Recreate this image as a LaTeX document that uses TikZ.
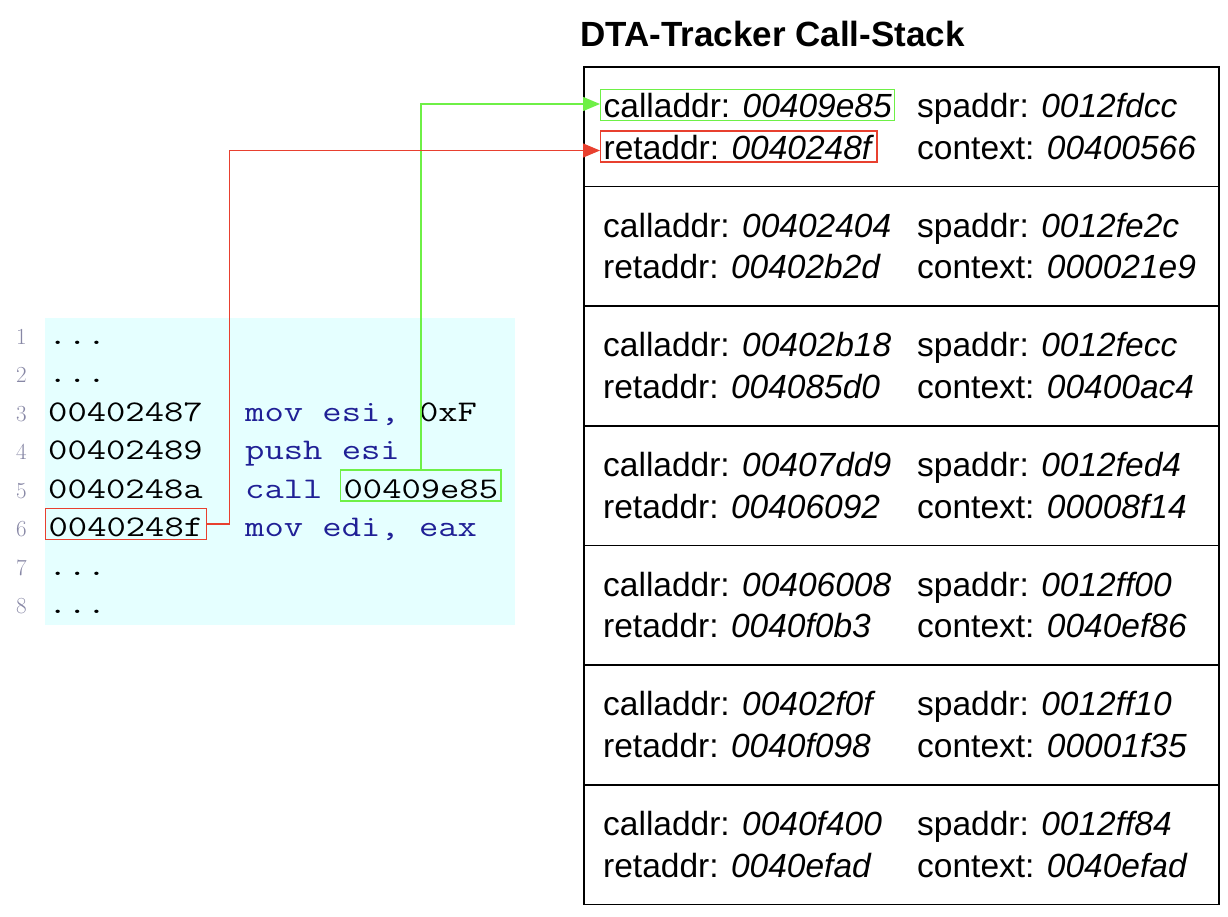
\documentclass[tikz,border=0pt]{standalone}
\usepackage{fontspec}
\setmainfont{Liberation Sans}
\newfontfamily\codefont[FakeStretch=1.25]{Latin Modern Mono}
\newfontfamily\numfont{Latin Modern Roman}
\usetikzlibrary{arrows.meta}
\definecolor{codebg}{RGB}{229,255,255}
\definecolor{codeblue}{RGB}{32,32,150}
\definecolor{linegray}{RGB}{135,135,165}
\definecolor{hlgreen}{RGB}{110,240,70}
\definecolor{hlred}{RGB}{232,64,47}
\tikzset{
  frame/.style={draw, line width=1.5pt, anchor=north west, minimum width=635pt, minimum height=119.67pt, inner sep=0pt},
  stack/.style={font=\fontsize{33.5}{40}\selectfont, anchor=base west, inner sep=0pt},
  code/.style={font=\codefont\fontsize{30}{36}\selectfont, anchor=base west, inner sep=0pt},
  lineno/.style={font=\numfont\fontsize{23}{26}\selectfont, text=linegray, anchor=base east, inner sep=0pt},
  hlbox/.style={draw=#1, line width=1.3pt, inner xsep=3pt, inner ysep=0pt, text height=28pt, text depth=3pt},
  link/.style={draw=#1, line width=1.3pt, -{Triangle[length=17pt,width=14pt]}}
}
\begin{document}
\begin{tikzpicture}[x=1pt,y=-1pt]
  \useasboundingbox (0,0) rectangle (1228,916);

  % listing
  \fill[codebg] (45,318) rectangle (515,625);
  \foreach \n in {1,...,8}
    \node[lineno] (n\n) at (27,{344+38.5*(\n-1)}) {\n};
  \node[code] (l1) at (48,344) {...};
  \node[code] (l2) at (48,382.5) {...};
  \node[code] (a3) at (48,421) {00402487};
  \node[code] (i3) at (245,421) {{\color{codeblue}mov esi,} 0xF};
  \node[code] (a4) at (48,459.5) {00402489};
  \node[code, text=codeblue] (i4) at (245,459.5) {push esi};
  \node[code] (a5) at (48,498) {0040248a};
  \node[code, text=codeblue] (i5) at (245,498) {call};
  \node[code, hlbox=hlgreen] (calltarget) at (340,498) {00409e85};
  \node[code, hlbox=hlred] (retcode) at (45,536.5) {0040248f};
  \node[code, text=codeblue] (i6) at (245,536.5) {mov edi, eax};
  \node[code] (l7) at (48,575) {...};
  \node[code] (l8) at (48,613.5) {...};

  % call stack
  \node[stack, font=\bfseries\fontsize{35}{40}\selectfont] (title) at (580,46) {DTA-Tracker Call-Stack};
  \foreach \r in {1,...,7}
    \node[frame] (row\r) at (583,{66+119.67*(\r-1)}) {};

  \node[stack, hlbox=hlgreen] (call1) at (600,117.5) {calladdr: \textit{00409e85}};
  \node[stack] (sp1) at (917,117.5) {spaddr: \textit{0012fdcc}};
  \node[stack, hlbox=hlred] (ret1) at (600,159) {retaddr: \textit{0040248f}\hspace{8pt}};
  \node[stack] (ctx1) at (917,159) {context: \textit{00400566}};

  \foreach \r/\ca/\sa/\ra/\cx in {
      2/00402404/0012fe2c/00402b2d/000021e9,
      3/00402b18/0012fecc/004085d0/00400ac4,
      4/00407dd9/0012fed4/00406092/00008f14,
      5/00406008/0012ff00/0040f0b3/0040ef86,
      6/00402f0f/0012ff10/0040f098/00001f35,
      7/0040f400/0012ff84/0040efad/0040efad} {
    \node[stack] (call\r) at (603,{66+119.67*(\r-1)+51.5}) {calladdr: \textit{\ca}};
    \node[stack] (sp\r) at (917,{66+119.67*(\r-1)+51.5}) {spaddr: \textit{\sa}};
    \node[stack] (ret\r) at (603,{66+119.67*(\r-1)+93}) {retaddr: \textit{\ra}};
    \node[stack] (ctx\r) at (917,{66+119.67*(\r-1)+93}) {context: \textit{\cx}};
  }

  % links
  \draw[link=hlgreen] (calltarget.north) |- ([yshift=1pt]call1.west);
  \draw[link=hlred] (retcode.east) -- ++(23,0) |- ([yshift=-4pt]ret1.west);
\end{tikzpicture}
\end{document}
